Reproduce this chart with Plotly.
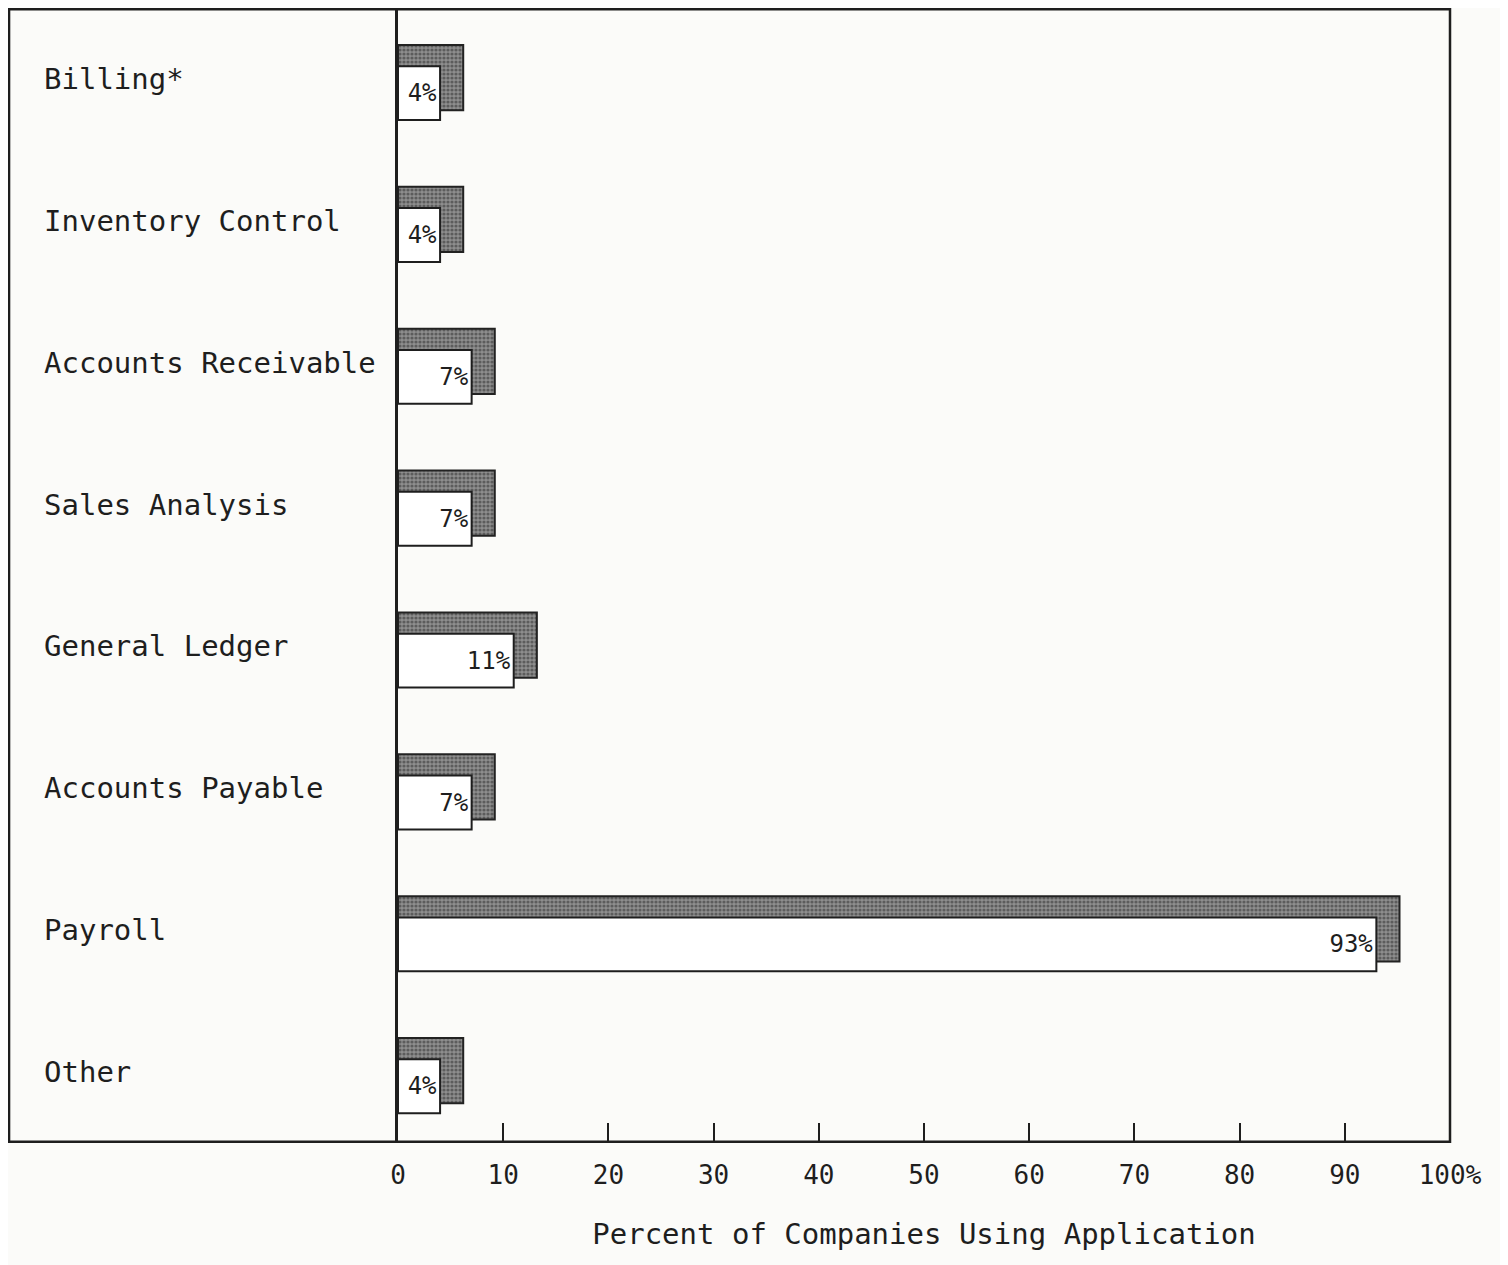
import plotly.graph_objects as go

categories = ["Billing*", "Inventory Control", "Accounts Receivable", "Sales Analysis",
              "General Ledger", "Accounts Payable", "Payroll", "Other"]
values = [4, 4, 7, 7, 11, 7, 93, 4]
labels = ["4%", "4%", "7%", "7%", "11%", "7%", "93%", "4%"]
tick_vals = [0, 10, 20, 30, 40, 50, 60, 70, 80, 90, 100]
tick_text = ["0", "10", "20", "30", "40", "50", "60", "70", "80", "90", "100%"]
x_title = "Percent of Companies Using Application"

DEPTH = 2.2
FONT = "DejaVu Sans Mono"
INK = "#1e1e1e"
BG = "#fbfbf9"

fig = go.Figure()

# shadow / 3D depth part
fig.add_trace(go.Bar(
    y=categories, x=[v + DEPTH for v in values], orientation="h",
    width=0.46, offset=-0.24,
    marker=dict(color="#6e6e6e",
                pattern=dict(shape=".", fgcolor="#2a2a2a", bgcolor="#8e8e8e", size=4, solidity=0.5),
                line=dict(color="#222222", width=2)),
    hoverinfo="skip", showlegend=False,
))

# front face
fig.add_trace(go.Bar(
    y=categories, x=values, orientation="h",
    width=0.38, offset=-0.09,
    marker=dict(color="white", line=dict(color=INK, width=2)),
    text=labels, textposition="inside", insidetextanchor="end", textangle=0,
    constraintext="none",
    insidetextfont=dict(family=FONT, size=24, color=INK),
    hoverinfo="skip", showlegend=False,
))

W, H = 1500, 1257
L, R, T, B = 390, 58, 0, 122
plot_w = W - L - R
for c in categories:
    fig.add_annotation(
        x=(34 - L) / plot_w, xref="paper", y=c, yref="y",
        text=c, showarrow=False, xanchor="left", yanchor="middle",
        font=dict(family=FONT, size=29, color=INK),
    )

# outer frame
fig.add_shape(type="rect", xref="paper", yref="paper",
              x0=(0 - L) / plot_w + 0.001, x1=1, y0=0.001, y1=0.999,
              line=dict(color=INK, width=2.5), layer="above")

fig.update_layout(
    width=W, height=H,
    margin=dict(l=L, r=R, t=T, b=B),
    paper_bgcolor=BG, plot_bgcolor=BG,
    barmode="overlay",
    xaxis=dict(range=[0, 100], tickvals=tick_vals, ticktext=tick_text,
               ticks="inside", ticklen=20, tickwidth=2, tickcolor=INK,
               ticklabelstandoff=14,
               tickfont=dict(family=FONT, size=26, color=INK),
               showgrid=False, zeroline=False, showline=False,
               title=dict(text=x_title, standoff=34,
                          font=dict(family=FONT, size=29, color=INK))),
    yaxis=dict(categoryorder="array", categoryarray=categories,
               range=[7.5, -0.5], showticklabels=False, ticks="",
               showgrid=False, zeroline=False,
               showline=True, linecolor=INK, linewidth=2.5),
)

fig.write_html("out.html")
